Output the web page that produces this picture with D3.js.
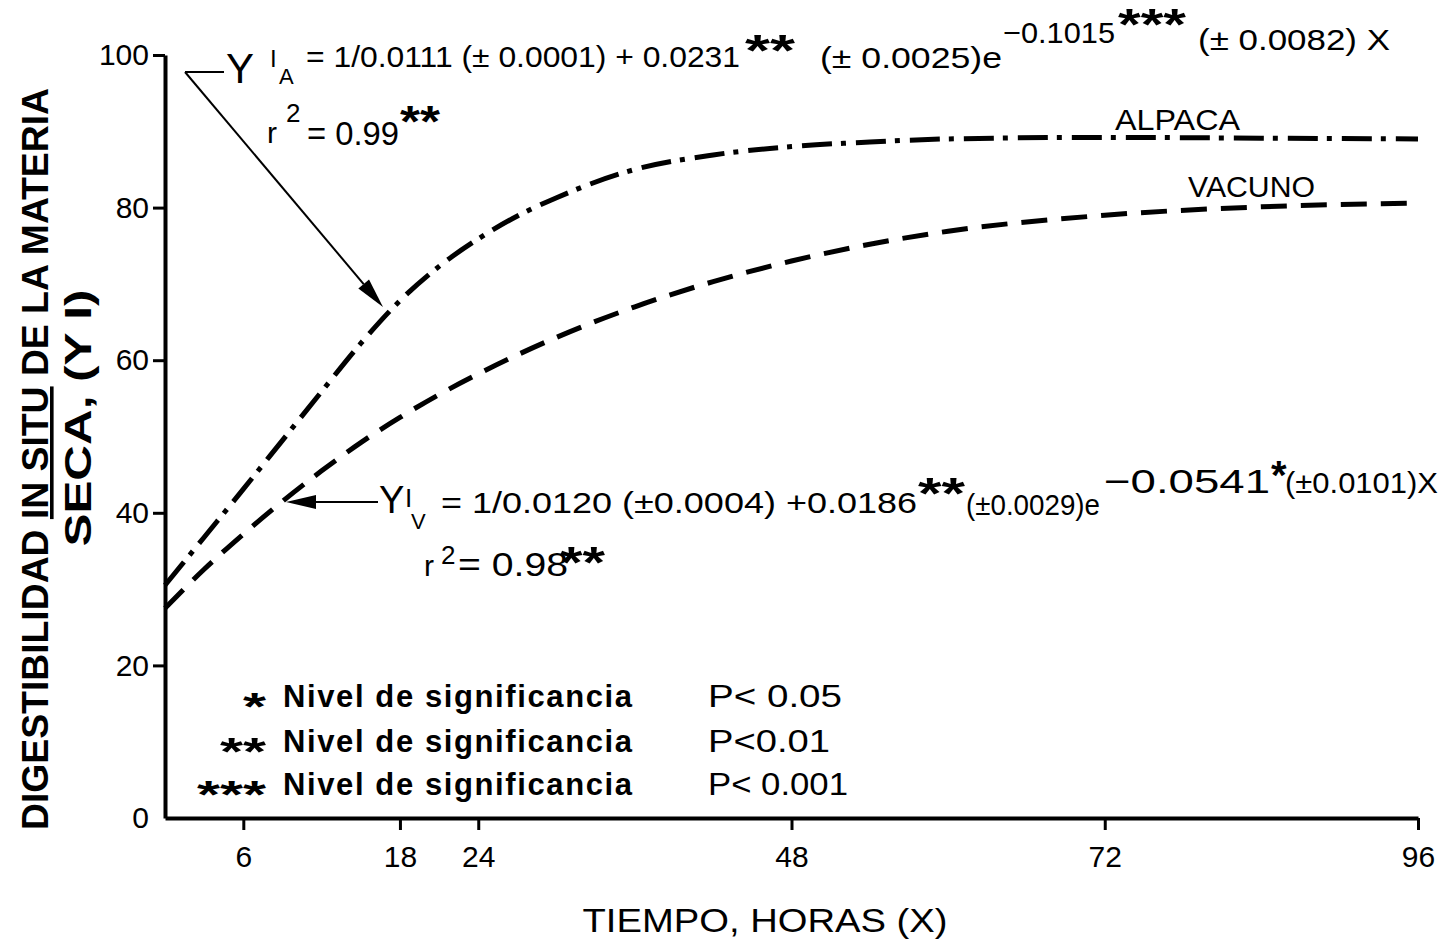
<!DOCTYPE html>
<html>
<head>
<meta charset="utf-8">
<script src="https://cdn.jsdelivr.net/npm/d3@7"></script>
<style>
  body { margin: 0; background: #fff; }
  text { font-family: "Liberation Sans", Arial, sans-serif; fill: #000; }
</style>
</head>
<body>
<div id="vis-holder"></div>
<script>
// Data
const hours = [0, 3, 6, 9, 12, 15, 18, 21, 24, 27, 30, 36, 42, 48, 54, 60, 72, 84, 96];
const alpaca = [30.5, 36.8, 43.1, 49.5, 55.9, 62.2, 67.8, 72.3, 75.9, 78.9, 81.3, 85.0, 86.9, 88.0, 88.6, 89.0, 89.2, 89.1, 89.0];
const vacuno = [27.5, 32.6, 37.2, 41.5, 45.5, 49.2, 52.5, 55.5, 58.2, 60.7, 63.0, 67.0, 70.3, 73.0, 75.2, 76.9, 79.0, 80.1, 80.6];
const xTicks = [6, 18, 24, 48, 72, 96];
const yTicks = [0, 20, 40, 60, 80, 100];
const legendStars = ["*", "**", "***"];
const legendP = ["P< 0.05", "P<0.01", "P< 0.001"];

const width = 1445;
const height = 942;

const svg = d3.select("#vis-holder")
              .append("svg")
              .attr("width", width)
              .attr("height", height);

// Scales
const x = d3.scaleLinear().domain([0, 96]).range([165, 1418]);
const y = d3.scaleLinear().domain([0, 100]).range([818, 55]);

// y axis
const yAxis = svg.append("g")
    .attr("transform", `translate(${x(0)},0)`)
    .call(d3.axisLeft(y).tickValues(yTicks).tickSize(12).tickSizeOuter(0).tickPadding(4));
yAxis.select(".domain").attr("stroke-width", 4);
yAxis.selectAll(".tick line").attr("stroke-width", 3)
     .attr("opacity", (d) => d === 0 ? 0 : 1);
yAxis.selectAll(".tick text")
     .attr("font-size", 30)
     .attr("font-family", "Liberation Sans");

// x axis
const xAxis = svg.append("g")
    .attr("transform", `translate(0,${y(0)})`)
    .call(d3.axisBottom(x).tickValues(xTicks).tickSize(12).tickSizeOuter(0).tickPadding(16));
xAxis.select(".domain").attr("stroke-width", 4);
xAxis.selectAll(".tick line").attr("stroke-width", 3);
xAxis.selectAll(".tick text")
     .attr("font-size", 30)
     .attr("font-family", "Liberation Sans");

// axis titles
svg.append("text")
   .attr("x", 765).attr("y", 932)
   .attr("text-anchor", "middle")
   .attr("font-size", 34)
   .attr("textLength", 365)
   .attr("lengthAdjust", "spacingAndGlyphs")
   .text("TIEMPO, HORAS (X)");

const yt1 = svg.append("text")
   .attr("transform", "translate(48,459) rotate(-90)")
   .attr("text-anchor", "middle")
   .attr("font-size", 36)
   .attr("font-weight", "bold")
   .attr("textLength", 742)
   .attr("lengthAdjust", "spacingAndGlyphs");
yt1.append("tspan").text("DIGESTIBILIDAD ");
yt1.append("tspan").attr("text-decoration", "underline").text("IN SITU");
yt1.append("tspan").text(" DE LA MATERIA");

svg.append("text")
   .attr("transform", "translate(91,418) rotate(-90)")
   .attr("text-anchor", "middle")
   .attr("font-size", 36)
   .attr("font-weight", "bold")
   .attr("textLength", 257)
   .attr("lengthAdjust", "spacingAndGlyphs")
   .text("SECA, (Y I)");

// curves
const line = (vals) => d3.line()
    .x((d, i) => x(hours[i]))
    .y((d) => y(d))
    .curve(d3.curveMonotoneX)(vals);

svg.append("path")
   .attr("d", line(alpaca))
   .attr("fill", "none")
   .attr("stroke", "#000")
   .attr("stroke-width", 5)
   .attr("stroke-dasharray", "30,9,5,10");

svg.append("path")
   .attr("d", line(vacuno))
   .attr("fill", "none")
   .attr("stroke", "#000")
   .attr("stroke-width", 5)
   .attr("stroke-dasharray", "26,14");

// series labels
svg.append("text").attr("x", 1115).attr("y", 130).attr("font-size", 30)
   .attr("textLength", 125).attr("lengthAdjust", "spacingAndGlyphs").text("ALPACA");
svg.append("text").attr("x", 1188).attr("y", 197).attr("font-size", 30)
   .attr("textLength", 127).attr("lengthAdjust", "spacingAndGlyphs").text("VACUNO");

// arrow helper
function arrow(x1, y1, x2, y2) {
  const a = Math.atan2(y2 - y1, x2 - x1);
  const len = 30, half = 7;
  const bx = x2 - len * Math.cos(a), by = y2 - len * Math.sin(a);
  svg.append("line")
     .attr("x1", x1).attr("y1", y1).attr("x2", bx).attr("y2", by)
     .attr("stroke", "#000").attr("stroke-width", 2);
  svg.append("path")
     .attr("d", `M${x2},${y2}L${bx + half * Math.sin(a)},${by - half * Math.cos(a)}L${bx - half * Math.sin(a)},${by + half * Math.cos(a)}Z`)
     .attr("fill", "#000");
}

function txt(s, xx, yy, size, opts = {}) {
  const t = svg.append("text").attr("x", xx).attr("y", yy).attr("font-size", size).text(s);
  if (opts.len) t.attr("textLength", opts.len).attr("lengthAdjust", "spacingAndGlyphs");
  if (opts.bold) t.attr("font-weight", "bold");
  return t;
}

// alpaca equation
svg.append("line").attr("x1", 185).attr("y1", 72).attr("x2", 224).attr("y2", 72)
   .attr("stroke", "#000").attr("stroke-width", 2);
arrow(185, 72, 383, 307);

txt("Y", 226, 83, 42);
txt("I", 270, 67, 24);
txt("A", 279, 84, 22);
txt("= 1/0.0111 (± 0.0001) + 0.0231", 306, 67, 30, { len: 434 });
txt("**", 745, 66, 44, { bold: true, len: 50 });
txt("(± 0.0025)e", 820, 68, 30, { len: 182 });
txt("−0.1015", 1003, 43, 30, { len: 112 });
txt("***", 1118, 40, 44, { bold: true, len: 68 });
txt("(± 0.0082) X", 1198, 50, 30, { len: 192 });

txt("r", 267, 143, 30);
txt("2", 286, 122, 26);
txt("= 0.99", 307, 145, 34, { len: 92 });
txt("**", 400, 137, 44, { bold: true, len: 40 });

// vacuno equation
arrow(378, 502, 286, 502);
txt("Y", 379, 513, 38);
txt("I", 405, 507, 26);
txt("V", 411, 529, 22);
txt("= 1/0.0120 (±0.0004) +0.0186", 441, 513, 30, { len: 476 });
txt("**", 918, 509, 44, { bold: true, len: 47 });
txt("(±0.0029)e", 966, 515, 30, { len: 134 });
txt("−0.0541", 1104, 493, 34, { len: 166 });
txt("*", 1271, 489, 40, { bold: true });
txt("(±0.0101)X", 1285, 493, 30, { len: 153 });

txt("r", 424, 576, 30);
txt("2", 441, 564, 26);
txt("= 0.98", 458, 576, 34, { len: 110 });
txt("**", 560, 578, 44, { bold: true, len: 45 });

// significance legend
const rowY = [707, 752, 795];
const pLen = [134, 122, 140];
legendStars.forEach((s, i) => {
  svg.append("text").attr("x", 266 - 23 * s.length).attr("y", rowY[i] + 13)
     .attr("font-size", 39).attr("font-weight", "bold")
     .attr("textLength", 23 * s.length).attr("lengthAdjust", "spacingAndGlyphs").text(s);
  svg.append("text").attr("x", 283).attr("y", rowY[i])
     .attr("font-size", 31).attr("font-weight", "bold")
     .attr("textLength", 349).attr("lengthAdjust", "spacing")
     .text("Nivel de significancia");
  svg.append("text").attr("x", 708).attr("y", rowY[i])
     .attr("font-size", 31)
     .attr("textLength", pLen[i]).attr("lengthAdjust", "spacingAndGlyphs")
     .text(legendP[i]);
});
</script>
</body>
</html>
